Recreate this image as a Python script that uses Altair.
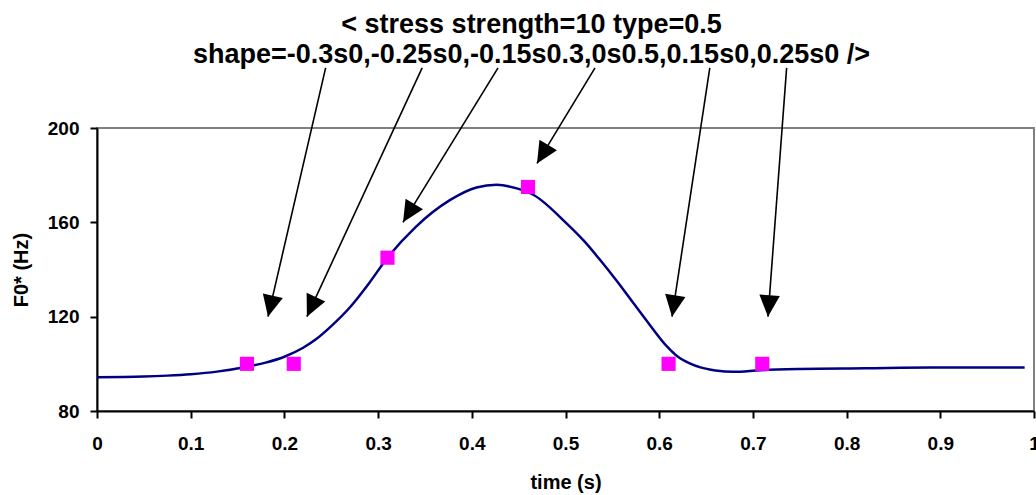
import math
import altair as alt
import pandas as pd

# ---- data ----
curve_t = [0.00, 0.05, 0.075, 0.10, 0.128, 0.16, 0.18, 0.20, 0.22, 0.234, 0.25, 0.27,
           0.29, 0.31, 0.34, 0.377, 0.405, 0.4265, 0.448, 0.466, 0.50, 0.52, 0.537,
           0.555, 0.572, 0.59, 0.608, 0.62, 0.632, 0.644, 0.66, 0.679, 0.708, 0.75,
           0.82, 0.89, 0.99]
curve_f = [94.3, 94.6, 95.0, 95.6, 96.7, 98.8, 100.5, 103.0, 106.8, 110.5, 116.0, 124.0,
           134.0, 145.0, 158.0, 169.5, 174.8, 175.9, 174.4, 171.6, 160.0, 152.0, 144.0,
           135.0, 126.0, 116.5, 107.5, 103.0, 100.3, 98.5, 97.2, 96.6, 97.3, 97.8,
           98.1, 98.4, 98.4]

target_t = [0.16, 0.21, 0.31, 0.46, 0.61, 0.71]
target_f = [100, 100, 145, 175, 100, 100]

arrow_tail_t = [0.244, 0.347, 0.428, 0.5315, 0.654, 0.736]
arrow_tail_f = [225.5, 225.5, 225.5, 225.5, 225.5, 225.5]
arrow_tip_t = [0.1825, 0.224, 0.3266, 0.4696, 0.6137, 0.7161]
arrow_tip_f = [120, 120, 160, 185, 120, 120]

x_ticks = [0, 0.1, 0.2, 0.3, 0.4, 0.5, 0.6, 0.7, 0.8, 0.9, 1.0]
y_ticks = [80, 120, 160, 200]

title_lines = ["< stress strength=10 type=0.5",
               "shape=-0.3s0,-0.25s0,-0.15s0.3,0s0.5,0.15s0,0.25s0 />"]

W, H = 937, 283
X_DOM = [0, 1]
Y_DOM = [80, 200]
FONT = "Liberation Sans"

curve_df = pd.DataFrame({"t": curve_t, "f": curve_f})
target_df = pd.DataFrame({"t": target_t, "f": target_f})

# arrowhead rotation from direction in pixel space
px_x = W / (X_DOM[1] - X_DOM[0])
px_y = H / (Y_DOM[1] - Y_DOM[0])
angles = []
for t0, f0, t1, f1 in zip(arrow_tail_t, arrow_tail_f, arrow_tip_t, arrow_tip_f):
    dx = (t1 - t0) * px_x
    dy = (f0 - f1) * px_y
    angles.append(math.degrees(math.atan2(-dx, dy)) % 360)
arrow_df = pd.DataFrame({"t": arrow_tail_t, "f": arrow_tail_f,
                         "t2": arrow_tip_t, "f2": arrow_tip_f, "ang": angles})

x_scale = alt.Scale(domain=X_DOM, nice=False, zero=False)
y_scale = alt.Scale(domain=Y_DOM, nice=False, zero=False)

x_axis = alt.Axis(values=x_ticks, format="~g", title="time (s)", labelFlush=False,
                  labelOverlap=False, labelPadding=16, titleY=77,
                  titleBaseline="alphabetic")
y_axis = alt.Axis(values=y_ticks, title="F0* (Hz)", labelPadding=11,
                  titleAngle=-90, titleX=-70, titleY=H / 2, titleAlign="center",
                  titleBaseline="alphabetic")

curve = alt.Chart(curve_df).mark_line(color="#000080", strokeWidth=2.5,
                                      interpolate="monotone").encode(
    x=alt.X("t:Q", scale=x_scale, axis=x_axis),
    y=alt.Y("f:Q", scale=y_scale, axis=y_axis),
)

shafts = alt.Chart(arrow_df).mark_rule(color="black", strokeWidth=1.6).encode(
    x=alt.X("t:Q", scale=x_scale),
    y=alt.Y("f:Q", scale=y_scale),
    x2="t2:Q",
    y2="f2:Q",
)

heads = alt.Chart(arrow_df).mark_point(
    shape="M0,0 L-1,-2.1 L1,-2.1 Z", filled=True, color="black", opacity=1,
    size=420, strokeWidth=0,
).encode(
    x=alt.X("t2:Q", scale=x_scale),
    y=alt.Y("f2:Q", scale=y_scale),
    angle=alt.Angle("ang:Q", scale=None),
)

squares = alt.Chart(target_df).mark_square(color="#FF00FF", size=200, opacity=1).encode(
    x=alt.X("t:Q", scale=x_scale),
    y=alt.Y("f:Q", scale=y_scale),
)

chart = alt.layer(curve, shafts, heads, squares).properties(
    width=W, height=H,
    autosize=alt.AutoSizeParams(type="none"),
    padding={"left": 97, "top": 128, "right": 2, "bottom": 84},
    background="white",
    title=alt.Title(title_lines, fontSize=27, font=FONT, fontWeight="bold",
                    color="black", anchor="middle", dx=-34, dy=30, lineHeight=30,
                    baseline="bottom", offset=1),
).configure_view(
    stroke="#808080", strokeWidth=2,
).configure_axis(
    grid=False, domainColor="black", domainWidth=2, tickColor="black",
    tickWidth=2, tickSize=7, labelFont=FONT, labelFontWeight="bold",
    labelFontSize=19, labelColor="black", titleFont=FONT, titleFontWeight="bold",
    titleFontSize=20, titleColor="black",
)

chart.save("out.html", embed_options={"renderer": "svg", "actions": False})
